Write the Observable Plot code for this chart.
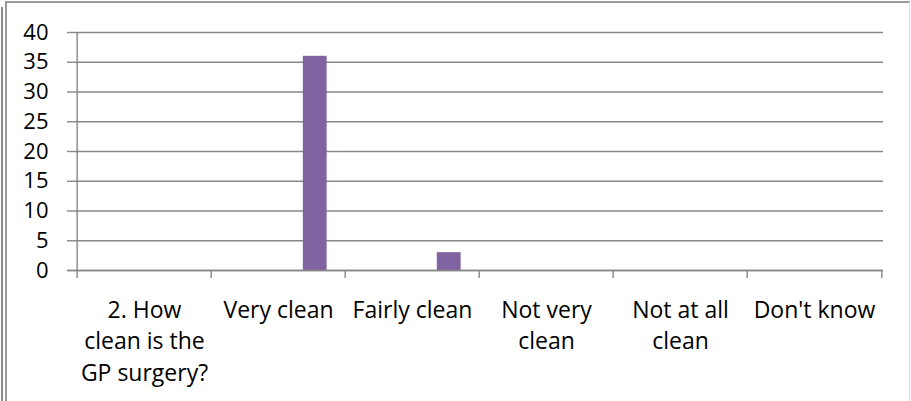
<!DOCTYPE html>
<html>
<head>
<meta charset="utf-8">
<script src="https://cdn.jsdelivr.net/npm/d3@7"></script>
<script src="https://cdn.jsdelivr.net/npm/@observablehq/plot@0.6"></script>
<style>
  html, body { margin: 0; padding: 0; background: #fff; }
  #wrap { position: relative; width: 911px; height: 401px; overflow: hidden; }
  #wrap svg { position: absolute; left: 0; top: 0; }
  .b { position: absolute; }
</style>
</head>
<body>
<div id="wrap">
  <div class="b" style="left:1px;top:7px;width:1.5px;height:394px;background:#8a8a8a"></div>
  <div class="b" style="left:5px;top:1px;width:1.5px;height:400px;background:#9a9a9a"></div>
  <div class="b" style="left:5px;top:1px;width:905px;height:1.5px;background:#9a9a9a"></div>
  <div class="b" style="left:909px;top:2px;width:1px;height:399px;background:#dcdcdc"></div>
</div>
<script>
// Data
const categories = ["2. How clean is the GP surgery?", "Very clean", "Fairly clean", "Not very clean", "Not at all clean", "Don't know"];
const values = [0, 36, 3, 0, 0, 0];
const tickLabels = ["2. How\nclean is the\nGP surgery?", "Very clean", "Fairly clean", "Not very\nclean", "Not at all\nclean", "Don't know"];
const yTicks = [0, 5, 10, 15, 20, 25, 30, 35, 40];

const data = categories.map((c, i) => ({category: c, value: values[i]}));

// Layout
const W = 911, H = 401;
const mL = 75, mR = 28, mT = 32, mB = 131;
const plotW = W - mL - mR, plotH = H - mT - mB;
const bw = plotW / categories.length;
const barW = bw / 5.5;              // 4-series cluster, 150% gap
const insetL = 3.75 * barW, insetR = 0.75 * barW;
const grey = "#878787";
const font = "'Open Sans', 'Noto Sans', sans-serif";

const chart = Plot.plot({
  width: W, height: H,
  marginLeft: mL, marginRight: mR, marginTop: mT, marginBottom: mB,
  style: {fontFamily: font, color: "#000", background: "transparent"},
  x: {domain: categories, padding: 0, label: null},
  y: {domain: [0, 40], label: null},
  marks: [
    Plot.gridY(yTicks, {stroke: grey, strokeOpacity: 1, strokeWidth: 1.4}),
    Plot.axisY(yTicks, {tickSize: 8, tickPadding: 19, fontSize: 22, stroke: grey, strokeWidth: 1.4, fill: "#000", label: null}),
    Plot.barY(data, {x: "category", y: "value", fill: "#8064A2", insetLeft: insetL, insetRight: insetR}),
    // y axis line (extends down as first category tick)
    Plot.ruleX(categories.slice(0, 1), {x: d => d, dx: -bw / 2, stroke: grey, strokeWidth: 1.4, insetBottom: -8}),
    // category boundary ticks
    Plot.ruleX(categories.slice(1), {x: d => d, dx: -bw / 2, stroke: grey, strokeWidth: 1.4, insetTop: plotH, insetBottom: -8}),
    Plot.ruleX(categories.slice(-1), {x: d => d, dx: bw / 2, stroke: grey, strokeWidth: 1.4, insetTop: plotH, insetBottom: -8}),
    Plot.ruleY([0], {stroke: grey, strokeWidth: 1.4, insetLeft: -8}),
    Plot.axisX({tickSize: 0, tickPadding: 25, fontSize: 23, lineHeight: 1.37, fill: "#000", label: null,
      tickFormat: d => tickLabels[categories.indexOf(d)]})
  ]
});
document.getElementById("wrap").appendChild(chart);
</script>
</body>
</html>
